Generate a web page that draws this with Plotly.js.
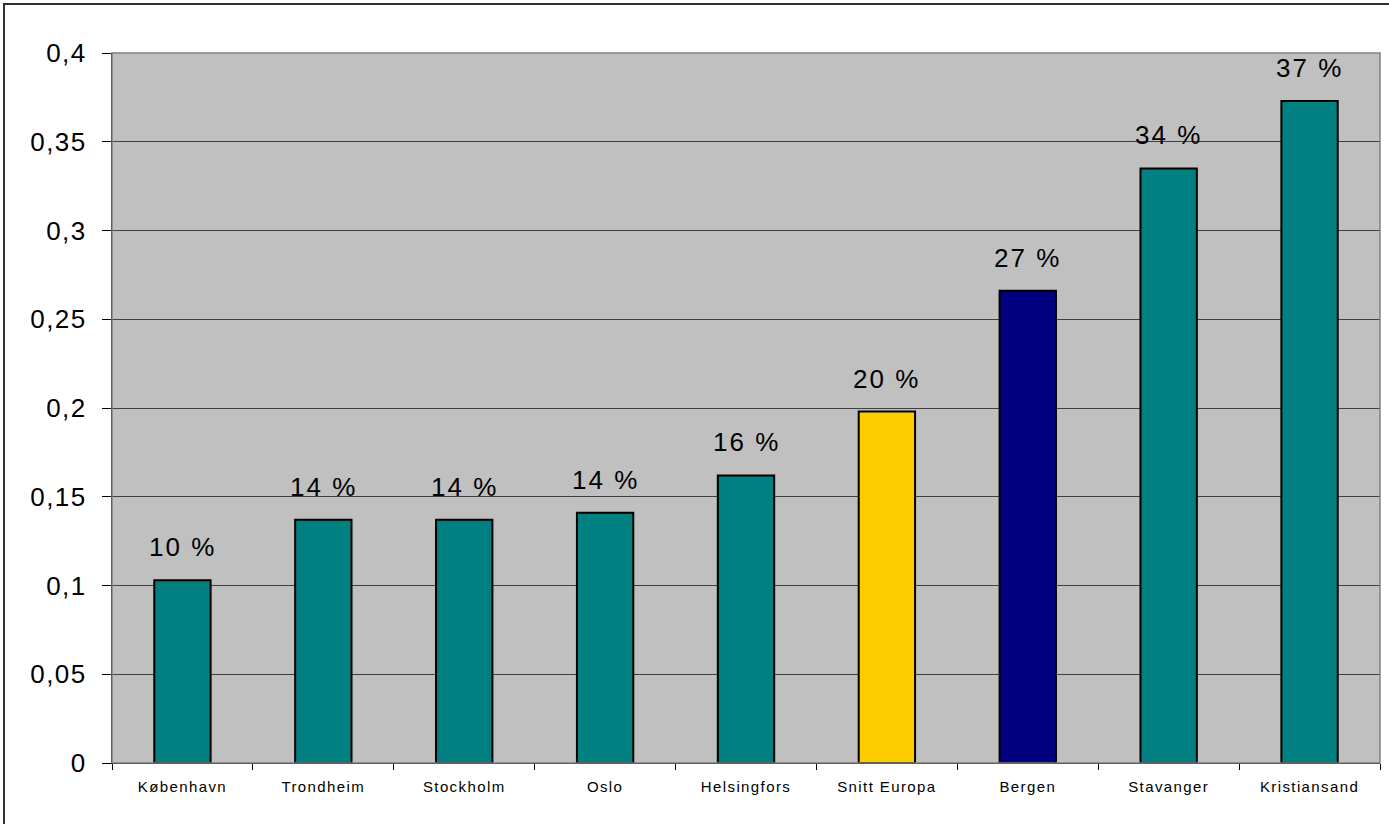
<!DOCTYPE html>
<html>
<head>
<meta charset="utf-8">
<script src="https://cdn.plot.ly/plotly-3.0.1.min.js"></script>
<style>
html,body{margin:0;padding:0;background:#fff;overflow:hidden;}
#frame{position:absolute;left:3px;top:3px;width:1400px;height:840px;border:2px solid #333;box-sizing:border-box;pointer-events:none;z-index:5;}
#chart{position:absolute;left:0;top:0;width:1389px;height:824px;}
.xtick text{letter-spacing:1.4px;}
.ytick text{letter-spacing:1.5px;}
.annotation-text{letter-spacing:2px;}
</style>
</head>
<body>
<div id="chart"></div>
<div id="frame"></div>
<script>
var categories = ["København","Trondheim","Stockholm","Oslo","Helsingfors","Snitt Europa","Bergen","Stavanger","Kristiansand"];
var values = [0.103,0.137,0.137,0.141,0.162,0.198,0.266,0.335,0.373];
var valueLabels = ["10 %","14 %","14 %","14 %","16 %","20 %","27 %","34 %","37 %"];
var barColors = ["#008080","#008080","#008080","#008080","#008080","#FFCC00","#000080","#008080","#008080"];
var yTicks = [0,0.05,0.1,0.15,0.2,0.25,0.3,0.35,0.4];

var trace = {
  type:'bar', x:categories, y:values,
  marker:{color:barColors, line:{color:'#000', width:2}},
  width:0.4, hoverinfo:'none'
};
var annotations = categories.map(function(c,i){
  return {x:c, y:values[i], xref:'x', yref:'y', text:valueLabels[i], showarrow:false,
    yanchor:'bottom', yshift:16, font:{family:'Liberation Sans, Arial', size:26, color:'#000'}};
});
var layout = {
  width:1389, height:824,
  margin:{l:112, r:9, t:53, b:61},
  paper_bgcolor:'#fff', plot_bgcolor:'#c0c0c0',
  separators:',.',
  showlegend:false,
  font:{family:'Liberation Sans, Arial', color:'#000'},
  xaxis:{type:'category', tickson:'boundaries', ticks:'outside', ticklen:6, tickcolor:'#000',
    showline:true, linecolor:'#000', linewidth:1, showgrid:false, ticklabelstandoff:10,
    tickfont:{size:15, family:'Liberation Sans, Arial'}, range:[-0.5,8.5]},
  yaxis:{range:[0,0.4], tickvals:yTicks, ticks:'outside', ticklen:9, tickcolor:'#000',
    showline:true, linecolor:'#000', linewidth:1, gridcolor:'#404040', gridwidth:1,
    ticklabelstandoff:10,
    zeroline:false, tickfont:{size:26, family:'Liberation Sans, Arial'}},
  annotations:annotations,
  shapes:[{type:'rect', xref:'paper', yref:'paper', x0:0, x1:1, y0:0, y1:1, line:{color:'#808080', width:1.5}, layer:'above'}]
};
Plotly.newPlot('chart',[trace],layout,{staticPlot:true});
</script>
</body>
</html>
